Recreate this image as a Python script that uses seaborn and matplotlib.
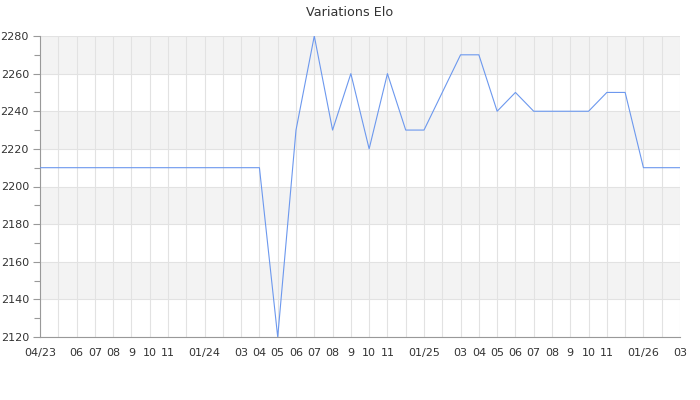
import matplotlib
matplotlib.use("Agg")
import matplotlib.pyplot as plt
import seaborn as sns
import pandas as pd
from matplotlib.ticker import MultipleLocator

month_labels = ["04/23", "", "06", "07", "08", "9", "10", "11", "", "01/24", "",
                "03", "04", "05", "06", "07", "08", "9", "10", "11", "", "01/25", "",
                "03", "04", "05", "06", "07", "08", "9", "10", "11", "", "01/26", "", "03"]
elo = [2210, 2210, 2210, 2210, 2210, 2210, 2210, 2210, 2210, 2210, 2210, 2210, 2210,
       2120, 2230, 2280, 2230, 2260, 2220, 2260, 2230, 2230, 2250, 2270, 2270,
       2240, 2250, 2240, 2240, 2240, 2240, 2250, 2250, 2210, 2210, 2210]
title = "Variations Elo"

sns.set_theme(style="white")
plt.rcParams['font.family'] = ['DejaVu Sans']

df = pd.DataFrame({"idx": range(len(elo)), "elo": elo})

fig = plt.figure(figsize=(7, 4), dpi=100)
ax = fig.add_axes([40/700, 1 - 337/400, 640/700, 301/400])

# alternating bands
ymin, ymax = 2120, 2280
for i, y0 in enumerate(range(ymin, ymax, 20)):
    if i % 2 == 1:
        ax.axhspan(y0, y0 + 20, color="#f3f3f3", zorder=0, lw=0)

sns.lineplot(data=df, x="idx", y="elo", ax=ax, color="#6c98ee", linewidth=0.8, zorder=3)

ax.set_xlim(0, len(elo) - 1)
ax.set_ylim(ymin, ymax)
ax.set_xticks(range(len(elo)))
ax.set_xticklabels(month_labels)
ax.yaxis.set_major_locator(MultipleLocator(20))
ax.yaxis.set_minor_locator(MultipleLocator(10))

ax.grid(True, which="major", color="#e2e2e2", linewidth=0.8, zorder=1)
ax.set_axisbelow(True)
ax.set_xlabel("")
ax.set_ylabel("")

for s in ["top", "right"]:
    ax.spines[s].set_visible(False)
for s in ["left", "bottom"]:
    ax.spines[s].set_color("#999999")
    ax.spines[s].set_linewidth(0.8)

ax.tick_params(axis="x", length=0, pad=8, labelsize=8, labelcolor="#333333")
ax.tick_params(axis="y", which="major", left=True, length=5, width=0.8, color="#999999",
               pad=3, labelsize=8, labelcolor="#333333")
ax.tick_params(axis="y", which="minor", left=True, length=4, width=0.8, color="#999999")

fig.text(350/700, 1 - 12/400, title, ha="center", va="center", fontsize=9.2, color="#333333")

fig.savefig("out.png", dpi=100)
